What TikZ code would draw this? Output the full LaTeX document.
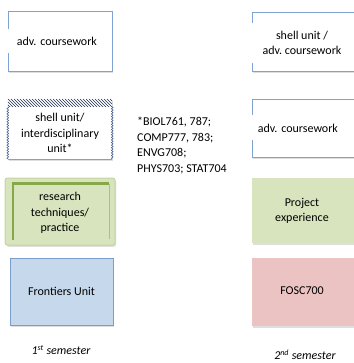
\documentclass[tikz,border=0pt]{standalone}
\usepackage{fontspec}
\setmainfont{Carlito}
\usetikzlibrary{shadows,decorations.pathmorphing}
\definecolor{edgeblue}{HTML}{7EA3D3}
\definecolor{hatchnavy}{HTML}{1F2F4F}
\definecolor{zigblue}{HTML}{3A5A8C}
\definecolor{greenfill}{HTML}{D8E4BE}
\definecolor{greenedge}{HTML}{C2D59C}
\definecolor{greendark}{HTML}{86A84A}
\definecolor{bluefill}{HTML}{C6D8EB}
\definecolor{blueedge}{HTML}{7A9DC9}
\definecolor{pinkfill}{HTML}{EBC3C2}
\tikzset{
  softshadow/.style={drop shadow={shadow xshift=1.2pt,shadow yshift=-1.8pt,opacity=0.28,fill=black!45}},
  unitbox/.style={rectangle,inner sep=0pt,softshadow},
  whitelabel/.style={fill=white,inner sep=0pt},
  plaintext/.style={inner sep=0pt,align=center},
}
\frenchspacing
\begin{document}
\begin{tikzpicture}[x=1pt,y=-1pt,font=\fontsize{12}{15.5}\selectfont]
\useasboundingbox[fill=white] (0,0) rectangle (353,363);

% ---------- first semester column ----------
% advanced coursework
\node[unitbox,draw=edgeblue,fill=white,line width=0.8pt,minimum width=104,minimum height=60] (a1) at (60,41) {};
\node[whitelabel,anchor=west,minimum height=24,text width=96] (a1t) at (a1.west) {\hspace*{9pt}adv. coursework};

% shell / interdisciplinary unit
\node[unitbox,fill=white,minimum width=104,minimum height=60] (a2) at (60,129) {};
\begin{scope}
  \clip (a2.north west) rectangle ([yshift=-8]a2.north east);
  \foreach \i in {-10,-7,...,112}
    \draw[hatchnavy,line width=0.7pt] (\i,99) -- ++(9,9);
\end{scope}
\draw[edgeblue,line width=0.8pt] (a2.south west) -- (a2.south east);
\draw[zigblue,line width=0.5pt,decorate,decoration={zigzag,segment length=2.6pt,amplitude=0.9pt}]
  ([yshift=-8]a2.north west) -- (a2.south west);
\draw[zigblue,line width=0.5pt,decorate,decoration={zigzag,segment length=2.6pt,amplitude=0.9pt}]
  ([yshift=-8]a2.north east) -- (a2.south east);
\node[plaintext] (a2t) at (60,133) {shell unit/\\interdisciplinary\\unit*};

% research techniques
\node[unitbox,draw=greenedge,fill=greenfill,line width=1pt,rounded corners=2.5pt,minimum width=110,minimum height=67] (a3) at (60,211.5) {};
\draw[greendark,line width=2.6pt] (109,183.5) -- (13,183.5) -- (13,240);
\draw[greendark!70,line width=1pt] (109,183.5) -- (109,239);
\node[plaintext] (a3t) at (60,213) {research\\techniques/\\practice};

% frontiers unit
\node[unitbox,draw=blueedge,fill=bluefill,line width=0.8pt,minimum width=103,minimum height=67] (a4) at (61.5,291.5) {};
\node[plaintext] (a4t) at (a4.center) {Frontiers Unit};

% elective codes
\node[anchor=north west,inner sep=0pt,align=left] (codes) at (137,117)
  {*BIOL761, 787;\\COMP777, 783;\\ENVG708;\\PHYS703; STAT704};

% ---------- second semester column ----------
\node[unitbox,draw=edgeblue,fill=white,line width=0.8pt,minimum width=110,minimum height=59] (b1) at (307,41.5) {};
\node[whitelabel,minimum width=106,minimum height=40,align=center] (b1t) at (302,43) {shell unit /\\adv. coursework};

\node[unitbox,draw=edgeblue,fill=white,line width=0.8pt,minimum width=110,minimum height=58] (b2) at (307,128) {};
\node[whitelabel,anchor=west,minimum height=25,text width=100] (b2t) at (b2.west) {\hspace*{6pt}adv. coursework};

\node[unitbox,fill=greenfill,minimum width=110,minimum height=65] (b3) at (307,210.5) {};
\node[plaintext] (b3t) at (302,211) {Project\\experience};

\node[unitbox,fill=pinkfill,minimum width=110,minimum height=68] (b4) at (307,292) {};
\node[plaintext] (b4t) at (302,291) {FOSC700};

% semester captions
\node[plaintext,font=\fontsize{12}{14}\itshape] (s1) at (61,350) {1\textsuperscript{st} semester};
\node[plaintext,font=\fontsize{12}{14}\itshape] (s2) at (305,355) {2\textsuperscript{nd} semester};
\end{tikzpicture}
\end{document}
